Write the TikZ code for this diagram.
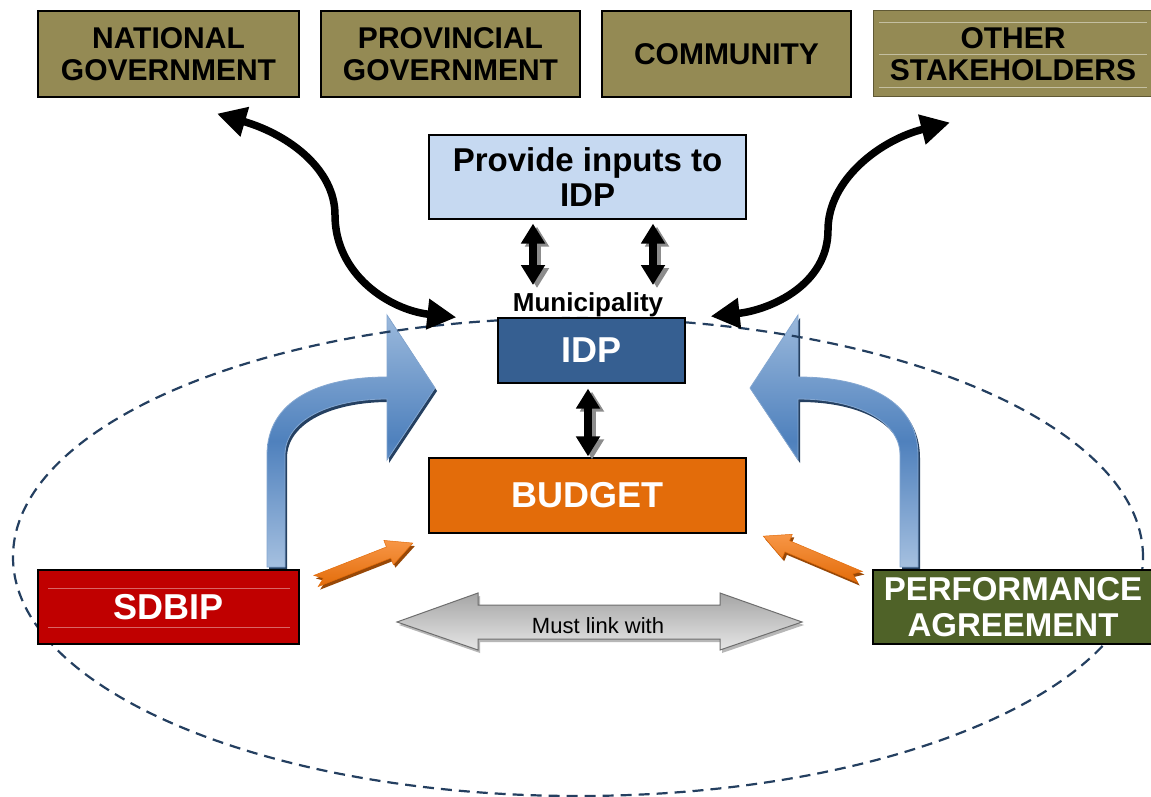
\documentclass[tikz,border=0pt]{standalone}
\usepackage{fontspec}
\setmainfont{Liberation Sans}
\usetikzlibrary{arrows.meta,calc}
\definecolor{olivebox}{RGB}{148,138,84}
\definecolor{olivedk}{RGB}{95,88,52}
\definecolor{lblue}{RGB}{198,217,241}
\definecolor{idpblue}{RGB}{54,95,145}
\definecolor{borange}{RGB}{227,108,10}
\definecolor{sred}{RGB}{192,0,0}
\definecolor{pgreen}{RGB}{79,98,40}
\definecolor{ellc}{RGB}{36,63,96}
\definecolor{bluL}{RGB}{155,185,220}
\definecolor{bluD}{RGB}{79,129,189}
\definecolor{bluS}{RGB}{37,64,97}
\definecolor{oraL}{RGB}{247,150,70}
\definecolor{oraS}{RGB}{152,72,7}
\definecolor{greyL}{RGB}{230,230,230}
\definecolor{greyD}{RGB}{165,165,165}
\definecolor{greyB}{RGB}{110,110,110}
\newcommand\bentshape[1]{%
  \path[#1] (267,567) -- (267,455) .. controls (267,400) and (320,377) .. (387,377)
    -- (387,315) -- (435,388) -- (387,460) -- (387,399)
    .. controls (330,399) and (285,420) .. (285,455) -- (285,567) -- cycle;}
\newcommand\notchshape[2]{% #1 style, #2 length
  \path[#1] (0,-6) -- ({#2-26},-6) -- ({#2-26},-13) -- (#2,0) -- ({#2-26},13)
    -- ({#2-26},6) -- (0,6) -- (8,0) -- cycle;}
\newcommand\orangearrow[3]{% #1 tail, #2 angle, #3 length
  \begin{scope}[shift={($#1+(2,3)$)}, rotate=#2]
    \notchshape{fill=oraS}{#3}
  \end{scope}
  \begin{scope}[shift={#1}, rotate=#2]
    \notchshape{top color=oraL, bottom color=borange, draw=borange, line width=0.5pt}{#3}
  \end{scope}}
\begin{document}
\begin{tikzpicture}[x=1pt,y=-1pt,
  box/.style={draw=black, line width=1.3pt, inner sep=0pt, align=center,
    font=\bfseries\fontsize{30}{32}\selectfont},
  topbox/.style={box, fill=olivebox, minimum width=261pt, minimum height=86pt},
  bluefill/.style={top color=bluL, bottom color=bluL!90!white, middle color=bluD,
    draw=bluD!70!white, line width=0.8pt},
  fatarrow/.style={line width=7.5pt,
    {Triangle[width=23pt,length=20pt]}-{Triangle[width=23pt,length=20pt]}},
  bigcurve/.style={line width=7.5pt,
    {Triangle[width=29pt,length=29pt]}-{Triangle[width=29pt,length=29pt]}}]
\useasboundingbox (0,0) rectangle (1151,797);
\fill[white] (0,0) rectangle (1151,797);

% blue bent arrows
\begin{scope}[shift={(2,3)}]
  \bentshape{fill=bluS}
\end{scope}
\bentshape{bluefill}
\begin{scope}[shift={(1185,0)}, xscale=-1]
  \begin{scope}[shift={(-2,3)}]
    \bentshape{fill=bluS}
  \end{scope}
  \bentshape{bluefill}
\end{scope}

% dashed ellipse
\draw[ellc, line width=2.2pt, dash pattern=on 11pt off 7pt]
  (578,557) ellipse [x radius=565pt, y radius=239pt];

% boxes
\node[topbox] (nat) at (168.5,54) {NATIONAL\\GOVERNMENT};
\node[topbox, minimum width=259pt] (prov) at (450.5,54) {PROVINCIAL\\GOVERNMENT};
\node[topbox, minimum width=249pt] (comm) at (726.5,54) {COMMUNITY};
\node[topbox, minimum width=280pt, draw=olivedk, line width=1pt] (oth) at (1013,54) {OTHER\\STAKEHOLDERS};
\foreach \yy in {22,54,87} \draw[olivebox!55!white, line width=0.6pt] (879,\yy) -- (1147,\yy);

\node[box, fill=lblue, minimum width=317pt, minimum height=84pt,
  font=\bfseries\fontsize{33}{35}\selectfont] (inp) at (587.5,177) {Provide inputs to\\IDP};
\node[font=\bfseries\fontsize{26}{28}\selectfont, anchor=base, inner sep=0pt] (muni) at (588,311) {Municipality};
\node[box, fill=idpblue, text=white, minimum width=187pt, minimum height=65pt,
  font=\bfseries\fontsize{36}{38}\selectfont] (idp) at (591.5,350.5) {IDP};
\node[box, fill=borange, text=white, minimum width=317pt, minimum height=75pt,
  font=\bfseries\fontsize{36}{38}\selectfont] (bud) at (587.5,495.5) {BUDGET};
\node[box, fill=sred, text=white, minimum width=261pt, minimum height=74pt,
  font=\bfseries\fontsize{36}{38}\selectfont] (sdbip) at (168.5,607) {SDBIP};
\draw[sred!60!white, line width=0.6pt] (48,588) -- (290,588) (48,627) -- (290,627);
\node[box, fill=pgreen, text=white, minimum width=280pt, minimum height=74pt,
  font=\bfseries\fontsize{33}{36}\selectfont] (pa) at (1013,607) {PERFORMANCE\\AGREEMENT};

% small black double arrows with shadows
\foreach \dx/\ex in {-54.5/-55, 65.5/65} {
  \draw[fatarrow, gray!90] ($(inp.south)+(\dx+4,7)$) -- ($(muni.base)+(\ex+4,-23)$);
  \draw[fatarrow, black] ($(inp.south)+(\dx,4)$) -- ($(muni.base)+(\ex,-26)$);
}
\draw[fatarrow, gray!90] ($(idp.south)+(0.5,8)$) -- ($(bud.north)+(4.5,2)$);
\draw[fatarrow, black] ($(idp.south)+(-3.5,5)$) -- ($(bud.north)+(0.5,-1)$);

% big curved black arrows
\draw[bigcurve] ($(nat.south)+(48.5,16)$) .. controls (290,135) and (335,170) .. (335,215)
  .. controls (335,275) and (390,310) .. ($(idp.north west)+(-41,0)$);
\draw[bigcurve] ($(oth.south)+(-63,25)$) .. controls (880,140) and (828,180) .. (828,230)
  .. controls (828,285) and (770,310) .. ($(idp.north east)+(25,-1)$);

% orange arrows
\orangearrow{(316,581)}{21.4}{104}
\orangearrow{(860,577)}{157.1}{105}

% grey double arrow
\fill[greyD!80!white] ($(397,622)+(2,3)$) -- ++(81,-29) -- ++(0,12) -- ++(242,0) -- ++(0,-12)
  -- ++(82,29) -- ++(-82,28) -- ++(0,-11) -- ++(-242,0) -- ++(0,11) -- cycle;
\shade[top color=greyD, bottom color=greyL, draw=greyB, line width=1pt]
  (397,622) -- (478,593) -- (478,605) -- (720,605) -- (720,593) -- (802,622)
  -- (720,650) -- (720,639) -- (478,639) -- (478,650) -- cycle;
\node[font=\fontsize{22}{24}\selectfont, anchor=base, inner sep=0pt] (link) at (598,633) {Must link with};
\end{tikzpicture}
\end{document}
